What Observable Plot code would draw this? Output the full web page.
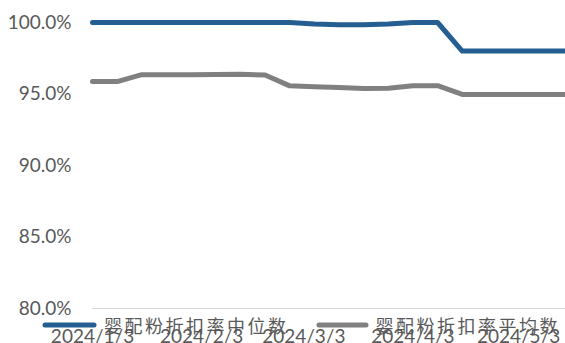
<!DOCTYPE html>
<html>
<head>
<meta charset="utf-8">
<script src="https://cdn.jsdelivr.net/npm/d3@7"></script>
<script src="https://cdn.jsdelivr.net/npm/@observablehq/plot@0.6"></script>
<style>
  body { margin: 0; background: #fff; }
  #chart { position: relative; width: 565px; height: 343px; overflow: hidden; }
  #chart svg { overflow: hidden; }
  .legend {
    position: absolute; left: 42px; top: 315px; height: 20px;
    display: flex; align-items: center; gap: 27px;
    font-family: "Noto Sans CJK SC", sans-serif; font-size: 18px;
    letter-spacing: 2.5px; color: #595959; line-height: 20px;
  }
  .legend .item { display: flex; align-items: center; gap: 7px; }
  .legend svg { display: block; }
</style>
</head>
<body>
<div id="chart"></div>
<script>
// Weekly observation dates
const dates = [
  "2024-01-03", "2024-01-10", "2024-01-17", "2024-01-24", "2024-01-31",
  "2024-02-07", "2024-02-14", "2024-02-21", "2024-02-28", "2024-03-06",
  "2024-03-13", "2024-03-20", "2024-03-27", "2024-04-03", "2024-04-10",
  "2024-04-17", "2024-04-24", "2024-05-01", "2024-05-08", "2024-05-15",
  "2024-05-22"
];
// Discount rate, median (%)
const medianRate = [
  100.0, 100.0, 100.0, 100.0, 100.0, 100.0, 100.0, 100.0, 100.0, 99.9,
  99.85, 99.85, 99.9, 100.0, 100.0, 98.0, 98.0, 98.0, 98.0, 98.0, 98.0
];
// Discount rate, mean (%)
const meanRate = [
  95.87, 95.87, 96.35, 96.35, 96.35, 96.36, 96.38, 96.33, 95.57, 95.5,
  95.45, 95.38, 95.4, 95.58, 95.58, 94.97, 94.97, 94.97, 94.97, 94.97, 94.97
];
const seriesNames = ["婴配粉折扣率中位数", "婴配粉折扣率平均数"];
const seriesColors = ["#255E91", "#808080"];
const yTicks = [80, 85, 90, 95, 100];
const xTicks = ["2024-01-03", "2024-02-03", "2024-03-03", "2024-04-03", "2024-05-03"];

const rows = [];
dates.forEach((d, i) => {
  rows.push({ date: new Date(d), value: medianRate[i], series: seriesNames[0] });
  rows.push({ date: new Date(d), value: meanRate[i], series: seriesNames[1] });
});

const fmtDate = d => `${d.getUTCFullYear()}/${d.getUTCMonth() + 1}/${d.getUTCDate()}`;

const chart = Plot.plot({
  width: 565,
  height: 343,
  marginLeft: 92,
  marginRight: 0,
  marginTop: 22,
  marginBottom: 35,
  style: { fontFamily: "Lato, sans-serif", fontSize: "19px", color: "#595959", background: "#fff" },
  x: { type: "utc", domain: [new Date(dates[0]), new Date(dates[dates.length - 1])], range: [92, 585] },
  y: { domain: [80, 100], range: [308, 22] },
  color: { domain: seriesNames, range: seriesColors },
  marks: [
    Plot.ruleY([80], { stroke: "#d9d9d9", strokeWidth: 1.2 }),
    Plot.axisY({ ticks: yTicks, tickSize: 0, tickPadding: 21, tickFormat: d => d.toFixed(1) + "%", fontSize: 19, label: null }),
    Plot.axisX({ ticks: xTicks.map(d => new Date(d)), tickSize: 0, tickPadding: 21, tickFormat: fmtDate, fontSize: 19, label: null }),
    Plot.lineY(rows, {
      x: "date", y: "value", z: "series", stroke: "series",
      strokeWidth: 5, strokeLinejoin: "round", strokeLinecap: "round"
    })
  ]
});

const host = document.getElementById("chart");
host.appendChild(chart);

// Legend drawn over the bottom of the chart
const legend = document.createElement("div");
legend.className = "legend";
const swatchWidths = [55, 53];
seriesNames.forEach((name, i) => {
  const item = document.createElement("div");
  item.className = "item";
  const w = swatchWidths[i];
  item.innerHTML =
    `<svg width="${w}" height="8"><line x1="3" x2="${w - 3}" y1="4" y2="4" stroke="${seriesColors[i]}" stroke-width="5" stroke-linecap="round"/></svg>` +
    `<span>${name}</span>`;
  legend.appendChild(item);
});
host.appendChild(legend);
</script>
</body>
</html>
